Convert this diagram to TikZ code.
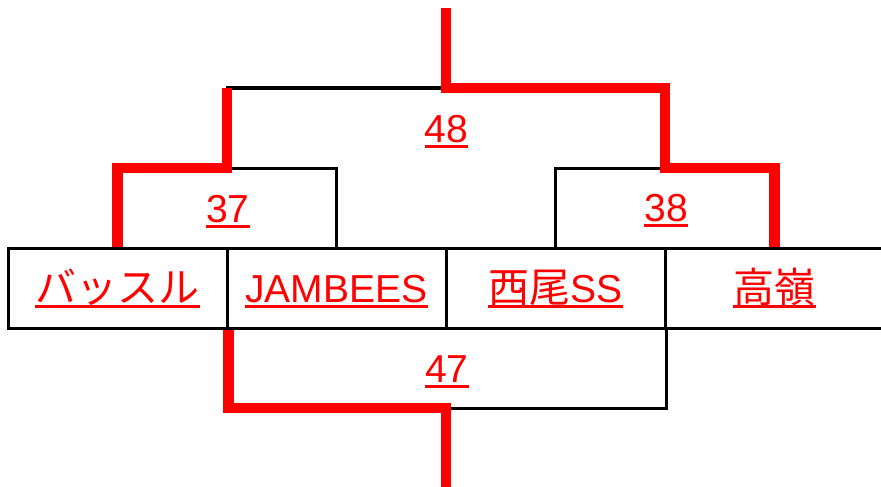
\documentclass[tikz,border=0pt]{standalone}
\usepackage{fontspec}
\setmainfont{Liberation Sans}
\newfontfamily\jp{Noto Sans CJK JP}
\newcommand\J[1]{{\jp\fontsize{41}{44}\selectfont #1}}
\newcommand\ulnode[1]{\draw[ul] ([yshift=-4.5pt]#1.base west) -- ([yshift=-4.5pt]#1.base east);}
\begin{document}
\begin{tikzpicture}[x=1pt,y=-1pt,
  cell/.style={draw=black,line width=3pt,minimum width=219pt,minimum height=80pt,inner sep=0pt},
  lbl/.style={text=red,inner sep=0pt,anchor=base,font=\fontsize{39}{44}\selectfont},
  blk/.style={draw=black,line width=3pt,line join=miter},
  win/.style={draw=red,line width=10.5pt,line join=miter},
  ul/.style={draw=red,line width=3.5pt}]
\useasboundingbox (0,0) rectangle (881,487);
% cells
\node[cell] (c1) at (117.5,288) {};
\node[cell] (c2) at (336.5,288) {};
\node[cell] (c3) at (555.5,288) {};
\node[cell] (c4) at (774.5,288) {};
% junctions
\coordinate (j37) at (227,168);
\coordinate (j38) at (665,168);
\coordinate (j48) at (446,88);
\coordinate (j47) at (446,408);
\coordinate (top) at (446,8);
\coordinate (bot) at (446,487);
% black brackets
\draw[blk] (c1.north) |- (j37) -| (c2.north);
\draw[blk] (c3.north) |- (j38) -| (c4.north);
\draw[blk] (j37) |- (j48) -| (j38);
\draw[blk] (c1.south east) |- (j47) -| (c3.south east);
% winner paths
\draw[win] (c1.north) |- (j37) -- (j37 |- j48);
\draw[win] (top) -- (j48) -| (j38) -| (c4.north);
\draw[win] (c1.south east) |- (j47) -- (bot);
% team names
\node[lbl] (t1) at ([yshift=-14pt]c1.center) {\J{バッスル}};
\node[lbl] (t2) at ([yshift=-14pt]c2.center) {JAMBEES};
\node[lbl] (t3) at ([yshift=-14pt]c3.center) {\J{西尾}SS};
\node[lbl] (t4) at ([yshift=-14pt]c4.center) {\J{高嶺}};
% match labels
\node[lbl] (m48) at (446.5,142) {48};
\node[lbl] (m37) at (228,222) {37};
\node[lbl] (m38) at (666,221) {38};
\node[lbl] (m47) at (447,382) {47};
\ulnode{t1}\ulnode{t2}\ulnode{t3}\ulnode{t4}
\ulnode{m48}\ulnode{m37}\ulnode{m38}\ulnode{m47}
\end{tikzpicture}
\end{document}
